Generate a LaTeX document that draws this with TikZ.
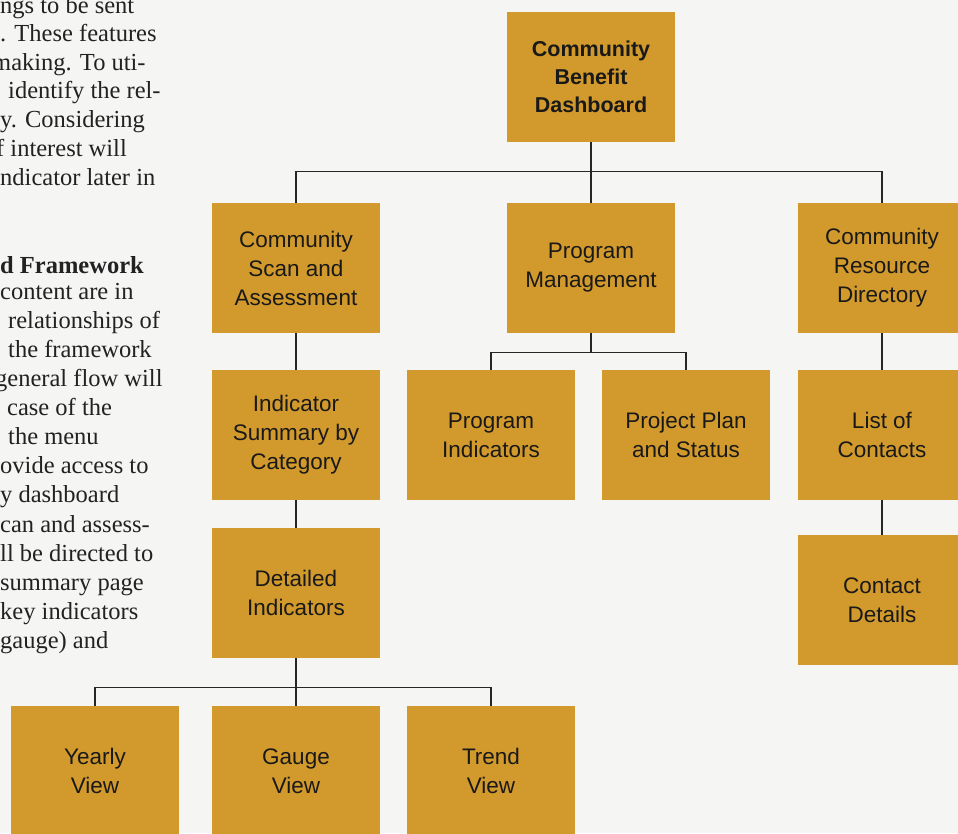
\documentclass[tikz,border=0pt]{standalone}
\usepackage{fontspec}
\setmainfont{Liberation Serif}
\setsansfont{Liberation Sans}
\definecolor{gold}{RGB}{210,154,44}
\definecolor{paper}{RGB}{245,245,244}
\definecolor{ink}{RGB}{34,34,34}
\begin{document}
\begin{tikzpicture}[x=1pt,y=-1pt,
    box/.style={fill=gold, minimum width=168pt, minimum height=130pt, inner sep=0pt,
      align=center, text=black!90, font=\sffamily\fontsize{22.5}{29}\selectfont},
    link/.style={line width=1.3pt, draw=black!85},
    pagetext/.style={anchor=base west, inner sep=0pt, text=ink,
      font=\fontsize{24.5}{28}\selectfont}]
  \useasboundingbox (0,0) rectangle (958,833);
  \clip (0,0) rectangle (958,833);
  \fill[paper] (0,0) rectangle (958,833);
  \foreach \y/\x/\t [count=\i] in {13/0/ngs to be sent, 41/0/. These features,
      70/-8/making. To uti-, 98/8/identify the rel-, 127/0/y. Considering,
      156/-4/f interest will, 185/0/ndicator later in, 299/0/content are in,
      328/8/relationships of, 357/8/the framework, 386/-5/general flow will,
      415/7/case of the, 444/8/the menu, 473/0/ovide access to, 502/0/y dashboard,
      532/0/can and assess-, 561/0/ll be directed to, 590/0/summary page,
      619/0/key indicators, 648/0/gauge) and}
    \node[pagetext] (para\i) at (\x,\y) {\t};
  \node[pagetext, font=\bfseries\fontsize{24.5}{28}\selectfont] (head) at (0,273) {d Framework};
  \node[box, font=\sffamily\bfseries\fontsize{21.5}{28}\selectfont] (dash) at (591,77) {Community\\Benefit\\Dashboard};
  \node[box] (scan) at (296,268) {Community\\Scan and\\Assessment};
  \node[box] (mgmt) at (591,268) {Program\\Management};
  \node[box] (dir) at (882,268) {Community\\Resource\\Directory};
  \node[box] (sum) at (296,435) {Indicator\\Summary by\\Category};
  \node[box] (progind) at (491,435) {Program\\Indicators};
  \node[box] (plan) at (686,435) {Project Plan\\and Status};
  \node[box] (contacts) at (882,435) {List of\\Contacts};
  \node[box] (detail) at (296,593) {Detailed\\Indicators};
  \node[box] (cdetails) at (882,600) {Contact\\Details};
  \node[box] (yearly) at (95,771) {Yearly\\View};
  \node[box] (gauge) at (296,771) {Gauge\\View};
  \node[box] (trend) at (491,771) {Trend\\View};
  \draw[link] (dash.south) -- ++(0,29) -| (scan.north);
  \draw[link] (dash.south) -- (mgmt.north);
  \draw[link] (dash.south) -- ++(0,29) -| (dir.north);
  \draw[link] (mgmt.south) -- ++(0,19) -| (progind.north);
  \draw[link] (mgmt.south) -- ++(0,19) -| (plan.north);
  \draw[link] (scan) -- (sum);
  \draw[link] (sum) -- (detail);
  \draw[link] (detail.south) -- ++(0,29) -| (yearly.north);
  \draw[link] (detail.south) -- (gauge.north);
  \draw[link] (detail.south) -- ++(0,29) -| (trend.north);
  \draw[link] (dir) -- (contacts);
  \draw[link] (contacts) -- (cdetails);
\end{tikzpicture}
\end{document}
